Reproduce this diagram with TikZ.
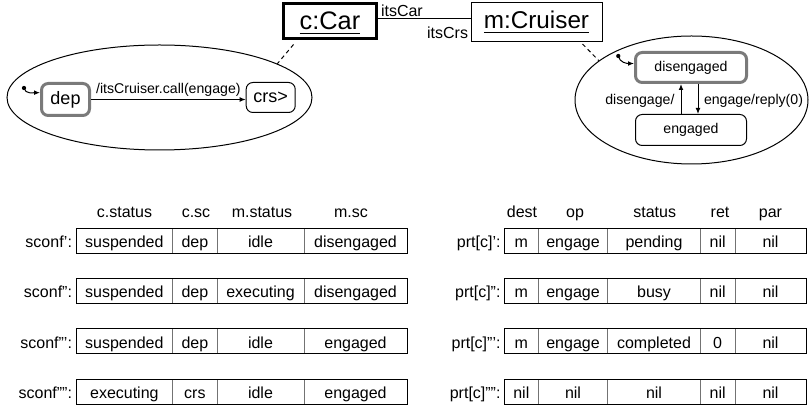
\documentclass[tikz,border=0pt]{standalone}
\usepackage{fontspec}
\setmainfont{Liberation Sans}
\usetikzlibrary{arrows.meta,shapes.geometric}
% object name with a drawn underline
\newcommand\ulname[1]{\setbox0\hbox{#1}\rlap{\rule[-3pt]{\wd0}{0.9pt}}\box0}
\begin{document}
\begin{tikzpicture}[x=0.75pt,y=-0.75pt,line width=0.75pt,
  txt/.style={inner sep=0pt,font=\fontsize{12}{14}\selectfont},
  small/.style={inner sep=0pt,font=\fontsize{10.6}{12}\selectfont},
  obj/.style={draw,rectangle,inner sep=0pt},
  region/.style={draw,ellipse,inner sep=0pt},
  state/.style={draw,rectangle,rounded corners=5pt,inner sep=0pt},
  initstate/.style={state,draw=black!52,line width=2.25pt},
  arr/.style={-{Latex[length=4.5pt,width=3.6pt]}},
  sep/.style={draw=black!55},
  link/.style={dashed,dash pattern=on 3pt off 2.5pt},
]
\useasboundingbox (0,0) rectangle (810,409);

% ---- objects and their link ----
\node[obj,line width=2.25pt,minimum width=69.75pt,minimum height=26.25pt,
      text height=15pt,text depth=1.5pt,font=\fontsize{19}{22}\selectfont]
  (car) at (330,21) {\ulname{c:Car}};
\node[obj,minimum width=98.25pt,minimum height=29.25pt,
      text height=13pt,text depth=3.25pt,font=\fontsize{18.2}{21}\selectfont]
  (cru) at (536.5,22.5) {\ulname{m:Cruiser}};
\draw (car.east |- 0,18.7) -- (cru.west |- 0,18.7);
\node[txt,anchor=base west] (rcar) at (380.5,16.3) {itsCar};
\node[txt,anchor=base east] (rcrs) at (468.5,38.3) {itsCrs};

% ---- statechart of c ----
\node[region,minimum width=228.75pt,minimum height=78.75pt] (lreg) at (159.5,97.5) {};
\draw[link] (car.south west) ++(11.5,4.5) -- (lreg.16);
\node[initstate,minimum width=36pt,minimum height=24pt,
      font=\fontsize{13.5}{16}\selectfont] (dep) at (65.5,99.5) {dep};
\node[state,minimum width=36.75pt,minimum height=22.5pt,
      font=\fontsize{13.5}{16}\selectfont] (crs) at (270.7,97.5) {crs>};
\coordinate (li) at (24,88);
\fill (li) circle[radius=1.6pt];
\draw[arr] (li) to[out=-80,in=180] (dep.165);
\draw[arr] (dep.east) -- (dep.east -| crs.west)
  node[small,midway,above=2.2pt] (tlab) {/itsCruiser.call(engage)};

% ---- statechart of m ----
\node[region,minimum width=174.75pt,minimum height=96pt] (rreg) at (691.5,100) {};
\draw[link] (cru.south east) ++(-20,1.5) -- (rreg.157);
\node[initstate,small,minimum width=83.25pt,minimum height=22.5pt] (dis) at (691,67.5) {disengaged};
\node[state,small,minimum width=83.25pt,minimum height=23.25pt] (eng) at (691,130) {engaged};
\coordinate (ri) at (618.3,56);
\fill (ri) circle[radius=1.6pt];
\draw[arr] (ri) to[out=-80,in=180] (dis.176);
\draw[arr] (681,0 |- eng.north) -- (681,0 |- dis.south);
\draw[arr] (698,0 |- dis.south) -- (698,0 |- eng.north);
\node[small,anchor=base east] (ldis) at (675,105) {disengage/};
\node[small,anchor=base west] (leng) at (703.5,105) {engage/reply(0)};

% ---- state configurations ----
\foreach \x/\h [count=\i] in {124.5/c.status,196/c.sc,262/m.status,351/m.sc}
  \node[txt,anchor=base] (lh\i) at (\x,218) {\h};
\foreach \r/\lab/\xa/\xb/\xc/\xd in {
    0/sconf'/suspended/dep/idle/disengaged,
    1/sconf''/suspended/dep/executing/disengaged,
    2/sconf'''/suspended/dep/idle/engaged,
    3/sconf''''/executing/crs/idle/engaged}{
  \pgfmathsetmacro\rt{228.5+50.2*\r}
  \draw[sep] (172.7,\rt) -- +(0,25) (217,\rt) -- +(0,25) (304,\rt) -- +(0,25);
  \draw (76,\rt) rectangle +(331,25);
  \node[txt,anchor=base east] (ls\r) at (72.5,\rt+19.3) {\lab:};
  \node[txt,anchor=base] (lc\r-1) at (124.35,\rt+19.3) {\xa};
  \node[txt,anchor=base] (lc\r-2) at (194.85,\rt+19.3) {\xb};
  \node[txt,anchor=base] (lc\r-3) at (260.5,\rt+19.3) {\xc};
  \node[txt,anchor=base] (lc\r-4) at (355.5,\rt+19.3) {\xd};
}

% ---- port contents ----
\foreach \x/\h [count=\i] in {522/dest,575/op,654.7/status,720/ret,770.5/par}
  \node[txt,anchor=base] (rh\i) at (\x,218) {\h};
\foreach \r/\lab/\xa/\xb/\xc/\xd/\xe in {
    0/prt[c]'/m/engage/pending/nil/nil,
    1/prt[c]''/m/engage/busy/nil/nil,
    2/prt[c]'''/m/engage/completed/0/nil,
    3/prt[c]''''/nil/nil/nil/nil/nil}{
  \pgfmathsetmacro\rt{228.5+50.2*\r}
  \draw[sep] (538.3,\rt) -- +(0,25) (607.7,\rt) -- +(0,25)
             (700.3,\rt) -- +(0,25) (735,\rt) -- +(0,25);
  \draw (504.3,\rt) rectangle (806,\rt+25);
  \node[txt,anchor=base east] (ps\r) at (501,\rt+19.3) {\lab:};
  \node[txt,anchor=base] (pc\r-1) at (521.3,\rt+19.3) {\xa};
  \node[txt,anchor=base] (pc\r-2) at (573,\rt+19.3) {\xb};
  \node[txt,anchor=base] (pc\r-3) at (654,\rt+19.3) {\xc};
  \node[txt,anchor=base] (pc\r-4) at (717.65,\rt+19.3) {\xd};
  \node[txt,anchor=base] (pc\r-5) at (770.5,\rt+19.3) {\xe};
}
\end{tikzpicture}
\end{document}
